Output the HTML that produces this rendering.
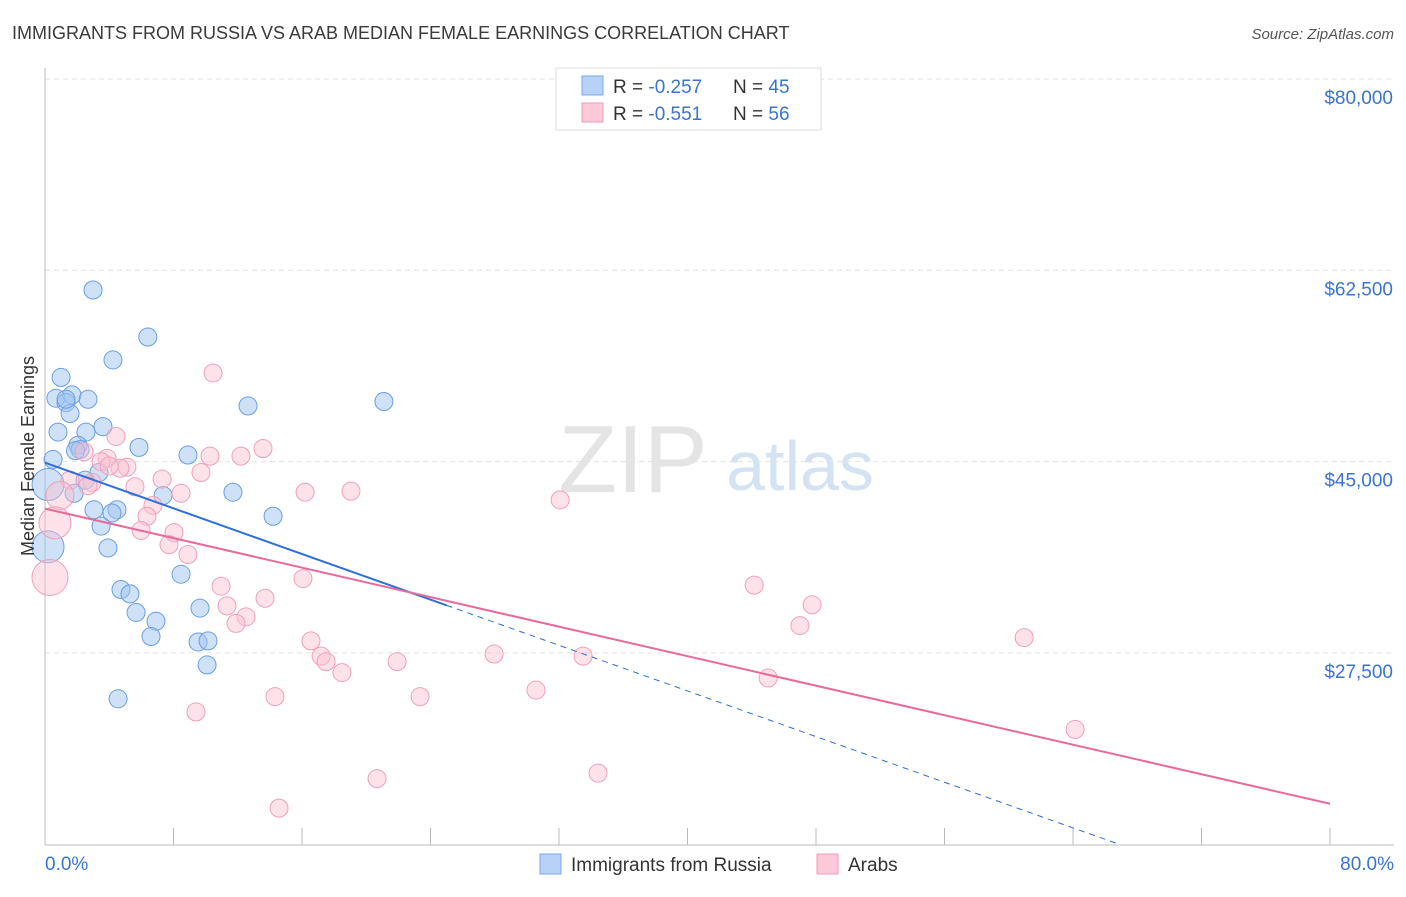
<!DOCTYPE html>
<html><head><meta charset="utf-8"><style>
body{margin:0;background:#fff;font-family:"Liberation Sans",sans-serif;}
svg text{font-family:"Liberation Sans",sans-serif;}
</style></head><body>
<svg id="chart" width="1406" height="892" viewBox="0 0 1406 892">
<text x="12" y="39" font-size="18" fill="#3a3a3a">IMMIGRANTS FROM RUSSIA VS ARAB MEDIAN FEMALE EARNINGS CORRELATION CHART</text>
<text x="1394" y="39" font-size="15" fill="#555" font-style="italic" text-anchor="end">Source: ZipAtlas.com</text>
<g>
<text x="633" y="492" font-size="96" fill="#e4e4e4" text-anchor="middle" font-family="Liberation Serif">ZIP</text>
<text x="800" y="490" font-size="70" fill="#d4e3f4" text-anchor="middle">atlas</text>
</g>
<g id="grid"></g>
<g id="axes"></g>
<g id="marks"></g>
<text transform="translate(34,456) rotate(-90)" font-size="18" fill="#333" text-anchor="middle">Median Female Earnings</text>
<g>
<rect x="556" y="68" width="265" height="62" fill="#fff" stroke="#ddd"/>
<rect x="582" y="76" width="21" height="19" fill="#b7d2f5" stroke="#7aa8e6"/>
<rect x="582" y="103" width="21" height="19" fill="#fbc9d7" stroke="#f09ab4"/>
<text x="613" y="93" font-size="19" fill="#333">R = <tspan fill="#3a74d0">-0.257</tspan></text>
<text x="733" y="93" font-size="19" fill="#333">N = <tspan fill="#3a74d0">45</tspan></text>
<text x="613" y="120" font-size="19" fill="#333">R = <tspan fill="#3a74d0"> -0.551</tspan></text>
<text x="733" y="120" font-size="19" fill="#333">N = <tspan fill="#3a74d0">56</tspan></text>
</g>
<g>
<rect x="540" y="854" width="21" height="20" fill="#b7d2f5" stroke="#7aa8e6"/>
<text x="571" y="871" font-size="19" fill="#333">Immigrants from Russia</text>
<rect x="817" y="854" width="21" height="20" fill="#fbc9d7" stroke="#f09ab4"/>
<text x="848" y="871" font-size="19" fill="#333">Arabs</text>
</g>
</svg>
<script>
const yTicks=[80000,62500,45000,27500];
const yTickLabels=["$80,000","$62,500","$45,000","$27,500"];
const xTickLabels=["0.0%","80.0%"];
const russiaX=[2.99,6.4,4.23,1.0,0.68,1.68,2.68,1.31,1.56,12.64,21.1,3.61,0.81,2.55,2.05,5.85,8.9,2.18,0.5,3.36,2.49,0.19,1.81,7.35,11.7,3.05,4.48,4.17,14.2,3.49,3.92,0.19,8.47,4.73,5.29,5.67,6.91,9.65,6.6,9.53,10.15,10.09,4.55,1.31,1.9];
const russiaY=[60.7,56.4,54.3,52.7,50.8,51.1,50.7,50.4,49.4,50.1,50.5,48.2,47.7,47.7,46.5,46.3,45.6,46.1,45.2,44.0,43.3,42.9,42.1,41.9,42.2,40.6,40.6,40.3,40.0,39.1,37.1,37.2,34.7,33.3,32.9,31.2,30.4,31.6,29.0,28.5,28.6,26.4,23.3,50.7,46.0];
const russiaBig=[21,31];
const arabX=[10.46,4.42,13.57,10.27,12.2,2.43,3.86,3.49,5.1,4.67,9.71,1.56,2.93,2.68,7.29,5.6,8.47,16.19,19.05,32.07,0.93,6.72,6.35,0.62,5.98,8.03,7.72,8.9,0.31,16.06,10.96,13.7,44.15,47.76,11.33,12.52,11.89,47.0,60.96,16.56,17.19,17.5,18.49,21.92,27.96,33.5,45.02,14.32,23.35,30.57,9.4,64.13,20.67,34.43,14.57,4.0];
const arabY=[53.1,47.3,46.2,45.5,45.5,45.9,45.3,45.0,44.5,44.4,44.0,43.3,43.1,42.8,43.4,42.7,42.1,42.2,42.3,41.5,41.9,41.0,40.0,39.4,38.7,38.5,37.4,36.5,34.4,34.3,33.6,32.5,33.7,31.9,31.8,30.8,30.2,30.0,28.9,28.6,27.2,26.7,25.7,26.7,27.4,27.2,25.2,23.5,23.5,24.1,22.1,20.5,16.0,16.5,13.3,44.6];
const arabBig={20:14,23:16,28:18};
const russiaTrend=[44.9,-0.522,25,66.9];
const arabTrend=[40.7,13.7];
const NS="http://www.w3.org/2000/svg";
const X=p=>45+p*16.0625;
const Y=v=>79+(80000-v)/91.48;
const Yk=v=>Y(v*1000);
function mk(tag,parent,attrs){const e=document.createElementNS(NS,tag);for(const k in attrs)e.setAttribute(k,attrs[k]);document.getElementById(parent).appendChild(e);return e;}
yTicks.forEach((t,i)=>{
 let l=mk('line','grid',{x1:45,x2:1394,y1:Y(t),y2:Y(t),stroke:'#e2e2e2','stroke-dasharray':'5,4'});
 
 
 let tx=mk('text','axes',{x:1393,y:Y(t)+25,'font-size':19,fill:'#3a74d0','text-anchor':'end'});
 tx.textContent=yTickLabels[i];
 
 
});
let ya=mk('line','axes',{x1:45,x2:45,y1:68,y2:845,stroke:'#bbb'});


let xa=mk('line','axes',{x1:45,x2:1394,y1:845,y2:845,stroke:'#bbb'});


for(let i=0;i<=10;i++){let p=i*8;let t=mk('line','axes',{x1:X(p),x2:X(p),y1:828,y2:845,stroke:'#bbb'});
 
 }
[[0,'start',45],[80,'end',1394]].forEach((a,i)=>{let t=mk('text','axes',{x:a[2],y:870,'font-size':19,fill:'#3a74d0','text-anchor':a[1]});t.textContent=xTickLabels[i];
 
 });
russiaX.forEach((x,i)=>{const r=russiaBig.includes(i)?16:9;
 let c=mk('circle','marks',{cx:X(x),cy:Yk(russiaY[i]),r:r,fill:'rgba(160,196,240,0.5)',stroke:'#6a9ee0','stroke-width':1});
 
 });
arabX.forEach((x,i)=>{const r=arabBig[i]||9;
 let c=mk('circle','marks',{cx:X(x),cy:Yk(arabY[i]),r:r,fill:'rgba(250,190,208,0.45)',stroke:'#f0a0b8','stroke-width':1});
 
 });
const [b0,bs,bEnd,bDash]=russiaTrend;
let rl=mk('line','marks',{x1:X(0),y1:Yk(b0),x2:X(bEnd),y2:Yk(b0+bs*bEnd),stroke:'#2f6fd6','stroke-width':2});


let rd=mk('line','marks',{x1:X(bEnd),y1:Yk(b0+bs*bEnd),x2:X(bDash),y2:Yk(b0+bs*bDash),stroke:'#2f6fd6','stroke-width':1,'stroke-dasharray':'6,5'});


let al=mk('line','marks',{x1:X(0),y1:Yk(arabTrend[0]),x2:X(80),y2:Yk(arabTrend[1]),stroke:'#e8699a','stroke-width':2});


</script>
</body></html>
